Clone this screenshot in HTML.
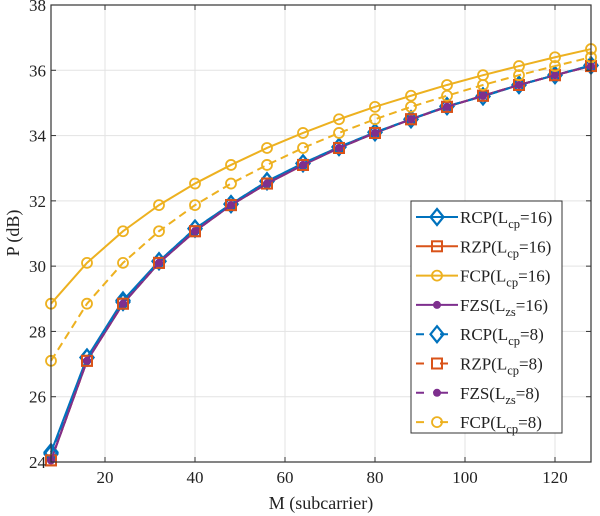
<!DOCTYPE html>
<html><head><meta charset="utf-8"><style>
html,body{margin:0;padding:0;background:#fff;}
svg{display:block;font-family:"Liberation Serif",serif;}
</style></head><body>
<svg id="chart" width="600" height="516" viewBox="0 0 600 516" xmlns="http://www.w3.org/2000/svg">
<rect x="0" y="0" width="600" height="516" fill="#fff"/>
<g id="grid"></g>
<g id="series"></g>
<g id="axes"></g>
<text x="321" y="509" font-size="18" text-anchor="middle" fill="#222">M (subcarrier)</text>
<text x="0" y="0" font-size="18" text-anchor="middle" fill="#222" transform="translate(19,233) rotate(-90)">P (dB)</text>
<g id="legend"></g>
</svg>
<script>
const mValues=[8,16,24,32,40,48,56,64,72,80,88,96,104,112,120,128];
const rcp16=[24.3,27.2,28.95,30.15,31.15,31.9,32.6,33.15,33.65,34.1,34.5,34.9,35.2,35.55,35.85,36.15];
const rzp16=[24.05,27.1,28.85,30.1,31.07,31.87,32.53,33.1,33.62,34.08,34.5,34.88,35.22,35.55,35.85,36.13];
const fcp16=[28.85,30.1,31.07,31.87,32.53,33.1,33.62,34.08,34.5,34.88,35.22,35.55,35.85,36.13,36.4,36.65];
const fzs16=[24.05,27.1,28.85,30.1,31.07,31.87,32.53,33.1,33.62,34.08,34.5,34.88,35.22,35.55,35.85,36.13];
const rcp8=[24.25,27.2,28.9,30.15,31.15,31.9,32.6,33.15,33.65,34.1,34.5,34.9,35.2,35.55,35.85,36.15];
const rzp8=[24.05,27.1,28.85,30.1,31.07,31.87,32.53,33.1,33.62,34.08,34.5,34.88,35.22,35.55,35.85,36.13];
const fzs8=[24.05,27.1,28.85,30.1,31.07,31.87,32.53,33.1,33.62,34.08,34.5,34.88,35.22,35.55,35.85,36.13];
const fcp8=[27.1,28.85,30.1,31.07,31.87,32.53,33.1,33.62,34.08,34.5,34.88,35.22,35.55,35.85,36.13,36.4];
const xTicks=[20,40,60,80,100,120];
const yTicks=[24,26,28,30,32,34,36,38];

const NS="http://www.w3.org/2000/svg";
const L=51,R=591,T=5,B=462,xMin=8,xMax=128,yMin=24,yMax=38;
const xs=v=>L+(v-xMin)/(xMax-xMin)*(R-L);
const ys=v=>B-(v-yMin)/(yMax-yMin)*(B-T);
function mk(tag,attrs,parent){const e=document.createElementNS(NS,tag);for(const k in attrs)e.setAttribute(k,attrs[k]);parent.appendChild(e);return e;}
const grid=document.getElementById('grid'),axes=document.getElementById('axes'),series=document.getElementById('series'),legend=document.getElementById('legend');
xTicks.forEach(t=>{
  const g=mk('line',{x1:xs(t),x2:xs(t),y1:T,y2:B,stroke:'#e3e3e3','stroke-width':1},grid);
  
  
  mk('line',{x1:xs(t),x2:xs(t),y1:B,y2:B-5,stroke:'#333'},axes);
  mk('line',{x1:xs(t),x2:xs(t),y1:T,y2:T+5,stroke:'#333'},axes);
  const tx=mk('text',{x:xs(t),y:B+21,'font-size':17,'text-anchor':'middle',fill:'#222'},axes);
  tx.textContent=t;
  
  
});
yTicks.forEach(t=>{
  const g=mk('line',{x1:L,x2:R,y1:ys(t),y2:ys(t),stroke:'#e3e3e3','stroke-width':1},grid);
  
  
  mk('line',{x1:L,x2:L+5,y1:ys(t),y2:ys(t),stroke:'#333'},axes);
  mk('line',{x1:R,x2:R-5,y1:ys(t),y2:ys(t),stroke:'#333'},axes);
  const tx=mk('text',{x:L-5,y:ys(t)+6,'font-size':17,'text-anchor':'end',fill:'#222'},axes);
  tx.textContent=t;
  
  
});
mk('rect',{x:L,y:T,width:R-L,height:B-T,fill:'none',stroke:'#333','stroke-width':1.2},axes);

const BLUE='#0072BD',ORANGE='#D95319',YELLOW='#EDB120',PURPLE='#7E2F8E';
function marker(type,x,y,color,p){
  if(type==='diamond') mk('path',{d:`M${x} ${y-8}L${x+6.5} ${y}L${x} ${y+8}L${x-6.5} ${y}Z`,fill:'none',stroke:color,'stroke-width':2.2},p);
  else if(type==='square') mk('rect',{x:x-5,y:y-5,width:10,height:10,fill:'none',stroke:color,'stroke-width':2},p);
  else if(type==='circle') mk('circle',{cx:x,cy:y,r:5,fill:'none',stroke:color,'stroke-width':1.8},p);
  else if(type==='dot') mk('circle',{cx:x,cy:y,r:4,fill:color},p);
}
const defs=[
 {name:'rcp-16',data:rcp16,color:BLUE,m:'diamond',dash:null,label:'RCP',sub:'cp',val:'16'},
 {name:'rzp-16',data:rzp16,color:ORANGE,m:'square',dash:null,label:'RZP',sub:'cp',val:'16'},
 {name:'fcp-16',data:fcp16,color:YELLOW,m:'circle',dash:null,label:'FCP',sub:'cp',val:'16'},
 {name:'fzs-16',data:fzs16,color:PURPLE,m:'dot',dash:null,label:'FZS',sub:'zs',val:'16'},
 {name:'rcp-8',data:rcp8,color:BLUE,m:'diamond',dash:'8 5',label:'RCP',sub:'cp',val:'8'},
 {name:'rzp-8',data:rzp8,color:ORANGE,m:'square',dash:'8 5',label:'RZP',sub:'cp',val:'8'},
 {name:'fzs-8',data:fzs8,color:PURPLE,m:'dot',dash:'8 5',label:'FZS',sub:'zs',val:'8'},
 {name:'fcp-8',data:fcp8,color:YELLOW,m:'circle',dash:'8 5',label:'FCP',sub:'cp',val:'8'}
];
defs.forEach(d=>{
  const g=mk('g',{},series);
  
  
  const pts=d.data.map((v,i)=>xs(mValues[i])+','+ys(v)).join(' ');
  const a={points:pts,fill:'none',stroke:d.color,'stroke-width':2};
  if(d.dash)a['stroke-dasharray']=d.dash;
  mk('polyline',a,g);
  d.data.forEach((v,i)=>marker(d.m,xs(mValues[i]),ys(v),d.color,g));
});
const lx=411,ly=201,lw=151,lh=232;
mk('rect',{x:lx,y:ly,width:lw,height:lh,fill:'#fff',stroke:'#333','stroke-width':1},legend);
defs.forEach((d,i)=>{
  const y=ly+16+i*29.3;
  const g=mk('g',{},legend);
  
  
  const a={x1:lx+5,x2:lx+47,y1:y,y2:y,stroke:d.color,'stroke-width':2};
  if(d.dash)a['stroke-dasharray']='8 16';
  mk('line',a,g);
  marker(d.m,lx+26,y,d.color,g);
  const t=mk('text',{x:lx+49,y:y+6,'font-size':17,fill:'#222'},g);
  t.innerHTML=d.label+'(L<tspan font-size="12.5" dy="5">'+d.sub+'</tspan><tspan dy="-5">='+d.val+')</tspan>';
});
</script>
</body></html>
